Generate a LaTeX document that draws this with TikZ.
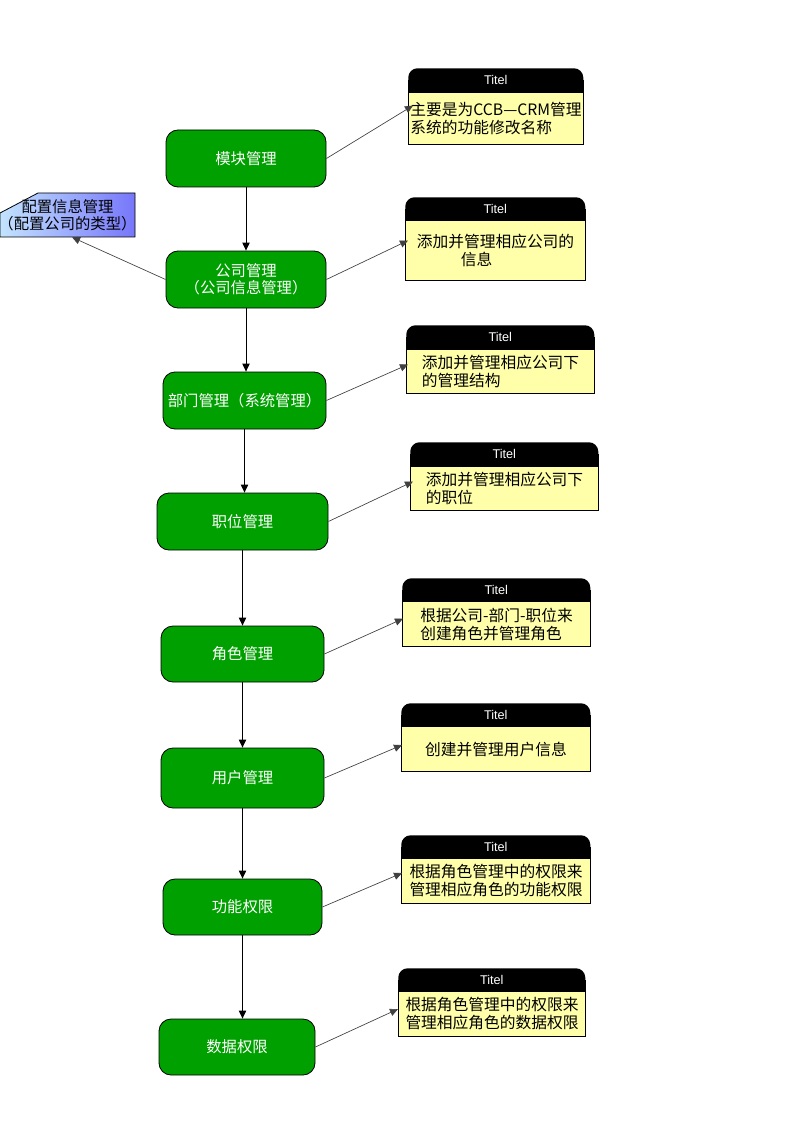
\documentclass[tikz,border=0pt]{standalone}
\usepackage{fontspec}
\setmainfont{Liberation Sans}
\newfontfamily\cjk{Noto Sans CJK SC}
\usetikzlibrary{arrows.meta}
\definecolor{boxgreen}{RGB}{0,160,0}
\definecolor{noteyellow}{RGB}{255,255,170}
\definecolor{cfgl}{RGB}{195,228,255}
\definecolor{cfgr}{RGB}{118,118,250}
\newcommand\mknote[8]{%
  \node[hdr, minimum width={(#4-#2)*0.75pt}, minimum height={(#5-#3)*0.75pt}, anchor=north west] (#1h) at (#2,#3) {};
  \fill[black] (#1h.west) rectangle (#1h.south east);
  \node[text=white, font=\fontsize{9.5}{10}\selectfont, inner sep=0pt] (#1t) at (#1h.center) {Titel};
  \node[nbody, #8, minimum width={(#4-#2)*0.75pt}, minimum height={(#6-#5)*0.75pt}, anchor=north west] (#1) at (#2,#5) {#7};
}
\begin{document}
\begin{tikzpicture}[x=0.75pt,y=-0.75pt,
  gbox/.style={draw=black, line width=0.6pt, fill=boxgreen, rounded corners=9pt, text=white,
    font=\cjk\fontsize{11.5}{12.5}\selectfont, align=center, inner sep=0pt},
  hdr/.style={fill=black, rounded corners=7pt, inner sep=0pt},
  nbody/.style={draw=black, line width=0.8pt, fill=noteyellow, font=\cjk\fontsize{11.8}{13.5}\selectfont, inner sep=0pt},
  arr/.style={-{Triangle[length=6pt,width=5.5pt]}, line width=0.7pt, draw=black},
  link/.style={-{Triangle[length=6pt,width=5.5pt]}, line width=0.5pt, draw=black!75}
]
\useasboundingbox (0,0) rectangle (794,1123);

% green process boxes
\node[gbox, minimum width=120pt, minimum height=42.75pt] (b1) at (246,158.5) {模块管理};
\node[gbox, minimum width=120pt, minimum height=42.75pt] (b2) at (246,279.5) {公司管理\\（公司信息管理）};
\node[gbox, minimum width=122.25pt, minimum height=42.75pt] (b3) at (244.5,400.5) {部门管理（系统管理）};
\node[gbox, minimum width=128.25pt, minimum height=42.75pt] (b4) at (242.5,521.5) {职位管理};
\node[gbox, minimum width=122.25pt, minimum height=42pt] (b5) at (242.5,654) {角色管理};
\node[gbox, minimum width=122.25pt, minimum height=45pt] (b6) at (242.5,778) {用户管理};
\node[gbox, minimum width=119.25pt, minimum height=42pt] (b7) at (242.5,907) {功能权限};
\node[gbox, minimum width=117pt, minimum height=42pt] (b8) at (237,1047) {数据权限};

% configuration box
\shade[left color=cfgl, right color=cfgr, draw=black, line width=0.6pt]
  (0,213) -- (38,193) -- (135,193) -- (135,237) -- (0,237) -- cycle;
\node[minimum width=101.25pt, minimum height=33pt, inner sep=0pt, align=center,
  font=\cjk\fontsize{11.5}{12.5}\selectfont] (cfg) at (67.5,215) {配置信息管理\\（配置公司的类型）};

% notes
\mknote{n1}{408}{68}{583}{92}{144}{主要是为CCB—CRM管理\\系统的功能修改名称}{align=left}
\mknote{n2}{405}{197}{585}{220}{280}{添加并管理相应公司的\\\hspace*{2.8em}信息}{align=left}
\mknote{n3}{406}{325}{594}{349}{393}{添加并管理相应公司下\\的管理结构}{align=left}
\mknote{n4}{410}{442}{598}{466}{510}{添加并管理相应公司下\\的职位}{align=left}
\mknote{n5}{402}{578}{590}{601}{646}{根据公司-部门-职位来\\创建角色并管理角色}{align=left}
\mknote{n6}{401}{703}{590}{726}{771}{创建并管理用户信息}{align=center}
\mknote{n7}{401}{835}{590}{858}{903}{根据角色管理中的权限来\\管理相应角色的功能权限}{align=center}
\mknote{n8}{398}{968}{585}{991}{1036}{根据角色管理中的权限来\\管理相应角色的数据权限}{align=center}

% vertical flow
\draw[arr] (b1.south) -- (b1.south |- b2.north);
\draw[arr] (b2.south) -- (b2.south |- b3.north);
\draw[arr] (b3.south) -- (b3.south |- b4.north);
\draw[arr] (b4.south) -- (b4.south |- b5.north);
\draw[arr] (b5.south) -- (b5.south |- b6.north);
\draw[arr] (b6.south) -- (b6.south |- b7.north);
\draw[arr] (b7.south) -- (b7.south |- b8.north);

% links to notes
\draw[link] (b1.east) -- ([xshift=3.75pt,yshift=9.75pt]n1.west);
\draw[link] (b2.east) -- ([xshift=2.25pt,yshift=7.5pt]n2.west);
\draw[link] (b3.east) -- ([xshift=1.5pt,yshift=5.25pt]n3.west);
\draw[link] (b4.east) -- ([xshift=2.25pt,yshift=5.25pt]n4.west);
\draw[link] (b5.east) -- ([xshift=0.75pt,yshift=4pt]n5.west);
\draw[link] (b6.east) -- ([xshift=0.75pt,yshift=3pt]n6.west);
\draw[link] (b7.east) -- ([xshift=0.75pt,yshift=6pt]n7.west);
\draw[link] (b8.east) -- ([yshift=3.75pt]n8.west);
\draw[link] (b2.west) -- ([xshift=3.4pt]cfg.south);
\end{tikzpicture}
\end{document}
